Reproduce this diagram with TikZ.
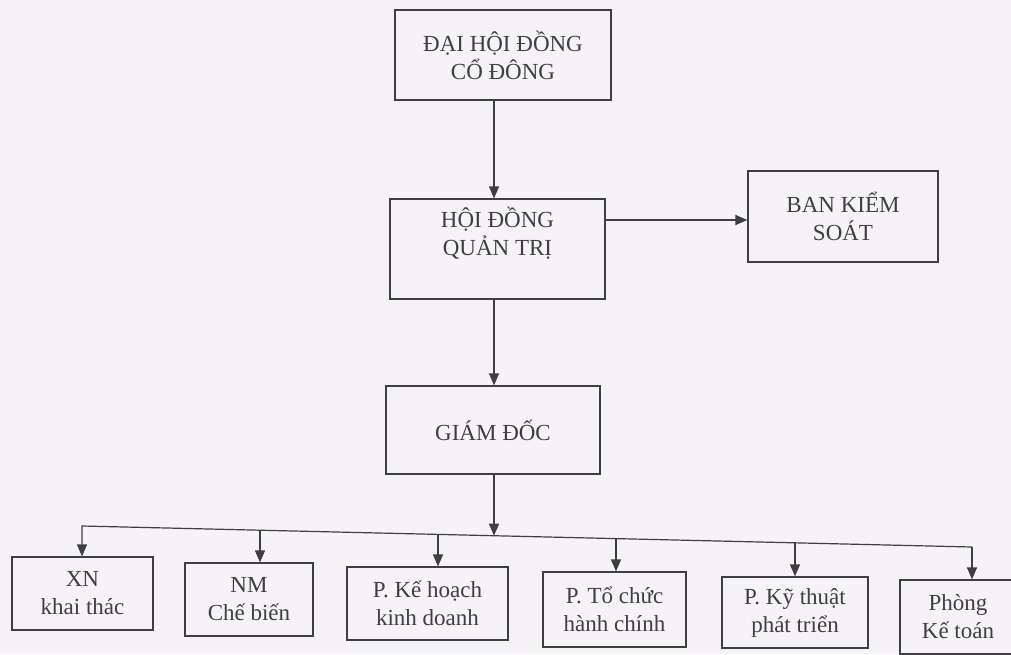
\documentclass[tikz,border=0pt]{standalone}
\usepackage{fontspec}
\setmainfont{Liberation Serif}
\usetikzlibrary{arrows.meta,calc}
\definecolor{paper}{RGB}{246,243,247}
\definecolor{ink}{RGB}{62,62,70}
\begin{document}
\begin{tikzpicture}[x=1pt, y=-1pt,
    font=\fontsize{23}{28}\selectfont,
    box/.style = {shape=rectangle, draw=ink, line width=1.2pt,
      text=ink, align=center, inner sep=0pt},
    link/.style = {draw=ink, line width=1.2pt, -{Triangle[length=12pt,width=10pt]}}]
  \fill[paper] (0,0) rectangle (1011,654);
  \useasboundingbox (0,0) rectangle (1011,654);
  % upper levels
  \node[box, minimum width=216pt, minimum height=90pt] (dhdcd) at (503,55) {ĐẠI HỘI ĐỒNG\\CỔ ĐÔNG};
  \node[box, minimum width=215pt, minimum height=100pt,
    label={[text=ink, align=center, yshift=16pt]center:HỘI ĐỒNG\\QUẢN TRỊ}] (hdqt) at (497.5,249) {};
  \node[box, minimum width=190pt, minimum height=91pt] (bks) at (843,216.5) {BAN KIỂM\\SOÁT};
  \node[box, minimum width=214pt, minimum height=88pt] (gd) at (493,430) {GIÁM ĐỐC};
  % departments
  \node[box, minimum width=141pt, minimum height=73pt] (xn) at (82.5,593.5) {XN\\khai thác};
  \node[box, minimum width=128pt, minimum height=73pt] (nm) at (249,599.5) {NM\\Chế biến};
  \node[box, minimum width=161pt, minimum height=73pt] (pkh) at (427.5,603.5) {P. Kế hoạch\\kinh doanh};
  \node[box, minimum width=143pt, minimum height=75pt] (ptc) at (614.5,609.5) {P. Tổ chức\\hành chính};
  \node[box, minimum width=146pt, minimum height=71pt] (pkt) at (795,612.5) {P. Kỹ thuật\\phát triển};
  \node[box, minimum width=116pt, minimum height=74pt] (pkto) at (958,617) {Phòng\\Kế toán};
  % connectors
  \coordinate (spine) at (494,0);
  \coordinate (ctl) at (0,220);
  \coordinate (busL) at (82,526);
  \coordinate (busR) at (972,547);
  \coordinate (hub) at ($(busL)!{(494-82)/890}!(busR)$);
  \draw[link] (dhdcd.south -| spine) -- (hdqt.north -| spine);
  \draw[link] (hdqt.east |- ctl) -- (bks.west |- ctl);
  \draw[link] (hdqt.south -| spine) -- (gd.north -| spine);
  \draw[link] (gd.south -| hub) -- (hub);
  \draw[link] (busR) -- (busL) -- (busL |- xn.north);
  \draw[link] (busR) -- (busR |- pkto.north);
  \foreach \d/\b in {260/nm, 438/pkh, 616/ptc, 795/pkt} {
    \coordinate (d-\b) at ($(busL)!{(\d-82)/890}!(busR)$);
    \draw[link] (d-\b) -- (d-\b |- \b.north);
  }
\end{tikzpicture}
\end{document}
